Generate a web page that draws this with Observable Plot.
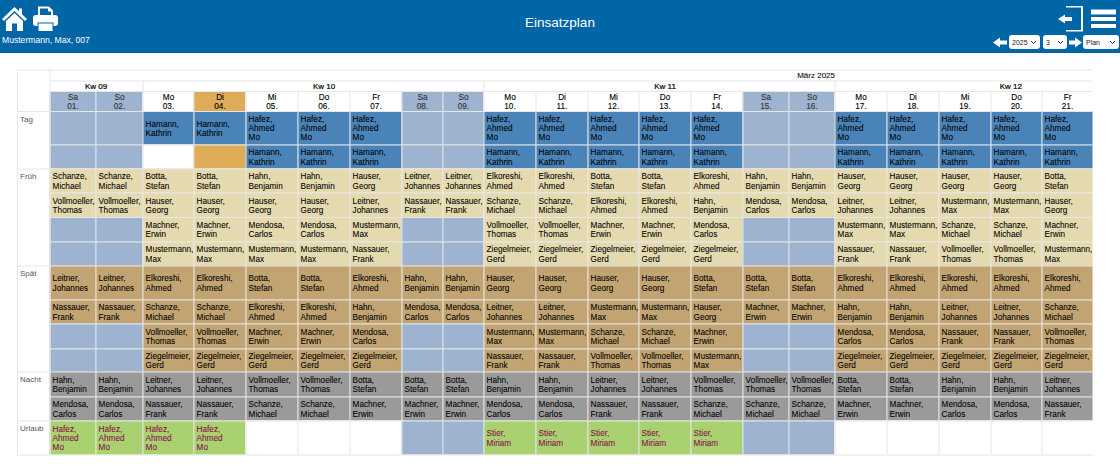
<!DOCTYPE html>
<html lang="de">
<head>
<meta charset="utf-8">
<title>Einsatzplan</title>
<script src="https://cdn.jsdelivr.net/npm/d3@7"></script>
<script src="https://cdn.jsdelivr.net/npm/@observablehq/plot@0.6"></script>
<style>
html,body{margin:0;padding:0;background:#fff;overflow:hidden}
body{font-family:"Liberation Sans",Arial,sans-serif;width:1120px;height:467px}
#bar{position:relative;height:52px;background:#0066a5;border-bottom:1px solid #005f99;color:#fff}
#title{position:absolute;left:0;width:1120px;top:15px;text-align:center;font-size:13.5px;line-height:16px}
#user{position:absolute;left:2px;top:35px;font-size:8.6px;line-height:11px}
#bar svg.icons{position:absolute;left:0;top:0}
#bar select{position:absolute;top:35px;height:14px;border:0;border-radius:3px;font:7px "Liberation Sans",Arial,sans-serif;color:#222;padding:0 0 0 3px;margin:0;
  appearance:none;-webkit-appearance:none;
  background:#fff url("data:image/svg+xml,%3Csvg xmlns='http://www.w3.org/2000/svg' width='7' height='5'%3E%3Cpath d='M1 1l2.5 2.5L6 1' fill='none' stroke='%23333' stroke-width='1'/%3E%3C/svg%3E") no-repeat right 3px center}
#chart{display:block;height:414px}
</style>
</head>
<body>
<div id="bar">
<svg class="icons" width="1120" height="52" fill="#fff">
<path d="M14.5 7 L2 19 L4 21 L14.5 11 L25 21 L27 19 L22 14.2 V8.5 H19 V11.3 Z"/>
<path d="M14.5 13 L6 21 V31 H12 V23.5 H17 V31 H23 V21 Z"/>
<path d="M38 6.5 H49 L53 10.5 V18 H38 Z M40 8.5 V16 H51 V11.5 H48 V8.5 Z" fill-rule="evenodd"/>
<rect x="33" y="15" width="25" height="11" rx="3"/>
<rect x="38" y="23" width="15" height="8.5" stroke="#0066a5" stroke-width="1"/>
<path d="M1066 6 H1083 V31.5 H1066 V30 H1081 V7.5 H1066 Z"/>
<path d="M1058 19 L1065 14.5 V17 H1072 V21 H1065 V23.5 Z"/>
<rect x="1091" y="9.5" width="25" height="5"/><rect x="1091" y="17" width="25" height="4"/><rect x="1091" y="24" width="25" height="4"/>
<path d="M993 42.5 L1000 37.5 V40.5 H1007 V44.5 H1000 V47.5 Z"/>
<path d="M1082 42.5 L1075 37.5 V40.5 H1069 V44.5 H1075 V47.5 Z"/>
</svg>
<div id="title">Einsatzplan</div>
<div id="user">Mustermann, Max, 007</div>
<select style="left:1009px;width:31px"><option>2025</option></select>
<select style="left:1043px;width:24px"><option>3</option></select>
<select style="left:1083px;width:36px"><option>Plan</option></select>
</div>
<div id="chart"></div>
<script>
// ---- data ----
const weekdays = ["Sa","So","Mo","Di","Mi","Do","Fr","Sa","So","Mo","Di","Mi","Do","Fr","Sa","So","Mo","Di","Mi","Do","Fr"];
const dates = ["01.","02.","03.","04.","05.","06.","07.","08.","09.","10.","11.","12.","13.","14.","15.","16.","17.","18.","19.","20.","21."];
const weekLabels = ["Kw 09","Kw 10","Kw 11","Kw 12"];
const weekCenters = [1,5.5,12.5,19.39];
const weekEdges = [2,9,16];
const monthLabel = "März 2025";
const today = "04.";

const Hf="Hafez,\nAhmed\nMo", Hm="Hamann,\nKathrin", Sc="Schanze,\nMichael", Bo="Botta,\nStefan", Ha="Hahn,\nBenjamin",
      Hs="Hauser,\nGeorg", Le="Leitner,\nJohannes", El="Elkoreshi,\nAhmed", Vo="Vollmoeller,\nThomas", Na="Nassauer,\nFrank",
      Me="Mendosa,\nCarlos", Ma="Machner,\nErwin", Mu="Mustermann,\nMax", Zi="Ziegelmeier,\nGerd", St="Stier,\nMiriam", _=null;

const tag1   = [_,_,Hm,Hm,Hf,Hf,Hf,_,_,Hf,Hf,Hf,Hf,Hf,_,_,Hf,Hf,Hf,Hf,Hf];
const tag2   = [_,_,_,_,Hm,Hm,Hm,_,_,Hm,Hm,Hm,Hm,Hm,_,_,Hm,Hm,Hm,Hm,Hm];
const frueh1 = [Sc,Sc,Bo,Bo,Ha,Ha,Hs,Le,Le,El,El,Bo,Bo,El,Ha,Ha,Hs,Hs,Hs,Hs,Bo];
const frueh2 = [Vo,Vo,Hs,Hs,Hs,Hs,Le,Na,Na,Sc,Sc,El,El,Ha,Me,Me,Le,Le,Mu,Mu,Hs];
const frueh3 = [_,_,Ma,Ma,Me,Me,Mu,_,_,Vo,Vo,Ma,Ma,Me,_,_,Mu,Mu,Sc,Sc,Ma];
const frueh4 = [_,_,Mu,Mu,Mu,Mu,Na,_,_,Zi,Zi,Zi,Zi,Zi,_,_,Na,Na,Vo,Vo,Mu];
const spaet1 = [Le,Le,El,El,Bo,Bo,El,Ha,Ha,Hs,Hs,Hs,Hs,Bo,Bo,Bo,El,El,El,El,El];
const spaet2 = [Na,Na,Sc,Sc,El,El,Ha,Me,Me,Le,Le,Mu,Mu,Hs,Ma,Ma,Ha,Ha,Le,Le,Sc];
const spaet3 = [_,_,Vo,Vo,Ma,Ma,Me,_,_,Mu,Mu,Sc,Sc,Ma,_,_,Me,Me,Na,Na,Vo];
const spaet4 = [_,_,Zi,Zi,Zi,Zi,Zi,_,_,Na,Na,Vo,Vo,Mu,_,_,Zi,Zi,Zi,Zi,Zi];
const nacht1 = [Ha,Ha,Le,Le,Vo,Vo,Bo,Bo,Bo,Ha,Ha,Le,Le,Vo,Vo,Vo,Bo,Bo,Ha,Ha,Le];
const nacht2 = [Me,Me,Na,Na,Sc,Sc,Ma,Ma,Ma,Me,Me,Na,Na,Sc,Sc,Sc,Ma,Ma,Me,Me,Na];
const urlaub = [Hf,Hf,Hf,Hf,_,_,_,_,_,St,St,St,St,St,_,_,_,_,_,_,_];

const shiftNames = ["Tag","Früh","Spät","Nacht","Urlaub"];
const shiftRows  = [[tag1,tag2],[frueh1,frueh2,frueh3,frueh4],[spaet1,spaet2,spaet3,spaet4],[nacht1,nacht2],[urlaub]];

// ---- tables for the marks ----
const headRows = 3;                        // month, week, weekday rows
const nDays = dates.length;
const isWeekend = i => weekdays[i] === "Sa" || weekdays[i] === "So";
const kindOf = i => isWeekend(i) ? "weekend" : dates[i] === today ? "today" : "free";

const cells = [], groupStarts = [], innerRows = [];
let slot = headRows;
shiftRows.forEach((rows, g) => {
  groupStarts.push({slot, label: shiftNames[g]});
  rows.forEach((values, r) => {
    if (r > 0) innerRows.push(slot);
    values.forEach((text, i) => {
      cells.push({day: i, slot, text, kind: text ? shiftNames[g] : kindOf(i), vac: shiftNames[g] === "Urlaub"});
    });
    slot++;
  });
});
const nSlots = slot;
const heads = dates.map((d, i) => ({day: i, kind: kindOf(i), text: weekdays[i] + "\n" + d, weekend: isWeekend(i)}));
const weeks = weekLabels.map((label, i) => ({label, at: weekCenters[i]}));

// ---- scales: column and row edges on the page (weekend columns and tall rows differ) ----
const topOffset = 53;
const xEdges = [17,49.5,95.5,142.5,193.5,245.5,297.5,349.5,401.5,442.5,483.5,535.5,587.5,638.5,690.5,742.5,788.5,834.5,886.5,938.5,990.5,1041.5,1092.5];
const yEdges = [69.5,80.5,91,111,144.5,168.5,192.5,217,241.5,265.5,299.5,323.5,348.5,371.5,396.5,420.5,454.5];
const font = "'Liberation Sans',Arial,sans-serif";
const kindDomain = [...shiftNames,"weekend","today","free"];
const kindRange  = ["#4a83b7","#e5daaf","#c1a471","#9a9a9a","#a9d16f","#9db3d0","#deab57","#ffffff"];
const line = "#e6e6e6";
const body = {fontSize: 8.2, lineHeight: 1.13, fontFamily: font, strokeWidth: 0.07, textAnchor: "start", dx: 2.6};
const named = cells.filter(d => d.text);

const plot = Plot.plot({
  width: 1120, height: 414, margin: 0,
  style: {background: "transparent"},
  x: {type: "linear", domain: d3.range(-1, nDays + 1), range: xEdges, axis: null},
  y: {type: "linear", domain: d3.range(0, nSlots + 1), range: yEdges.map(v => v - topOffset), axis: null},
  color: {domain: kindDomain, range: kindRange},
  marks: [
    // header cells and body cells
    Plot.rect(heads, {x1: "day", x2: d => d.day + 1, y1: 2, y2: 3, fill: "kind"}),
    Plot.rect(cells, {x1: "day", x2: d => d.day + 1, y1: "slot", y2: d => d.slot + 1, fill: "kind"}),
    // table grid
    Plot.ruleY([0, headRows, ...groupStarts.map(g => g.slot).slice(1), nSlots], {x1: -1, x2: nDays, stroke: line}),
    Plot.ruleY([1, 2, ...innerRows], {x1: 0, x2: nDays, stroke: line}),
    Plot.ruleX(d3.range(0, nDays), {y1: 2, y2: nSlots, stroke: line}),
    Plot.ruleX([-1, 0], {y1: 0, y2: nSlots, stroke: line}),
    Plot.ruleX(weekEdges, {y1: 1, y2: 2, stroke: line}),
    // texts
    Plot.text([monthLabel], {x: 16, y: 0.5, text: d => d, textAnchor: "end", fontSize: 8, fontFamily: font, fill: "#111", stroke: "#111", strokeWidth: 0.1}),
    Plot.text(weeks, {x: "at", y: 1.5, text: "label", fontSize: 8, fontFamily: font, fill: "#000", stroke: "#000", strokeWidth: 0.2}),
    Plot.text(heads.filter(d => !d.weekend), {x: d => d.day + 0.5, y: 2.5, text: "text", fontSize: 8.2, lineHeight: 1.13, fontFamily: font, fill: "#000", stroke: "#000", strokeWidth: 0.12}),
    Plot.text(heads.filter(d => d.weekend), {x: d => d.day + 0.5, y: 2.5, text: "text", fontSize: 8.2, lineHeight: 1.13, fontFamily: font, fill: "#333", stroke: "#333", strokeWidth: 0.12}),
    Plot.text(groupStarts, {x: -1, y: "slot", text: "label", dx: 2.5, dy: 7.5, textAnchor: "start", fontSize: 8, fontFamily: font, fill: "#555"}),
    Plot.text(named.filter(d => !d.vac), {...body, x: "day", y: d => d.slot + 0.5, text: "text", fill: "#000", stroke: "#000"}),
    Plot.text(named.filter(d => d.vac), {...body, x: "day", y: d => d.slot + 0.5, text: "text", fill: "#8b0a50", stroke: "#8b0a50"})
  ]
});
document.getElementById("chart").appendChild(plot);
</script>
</body>
</html>
